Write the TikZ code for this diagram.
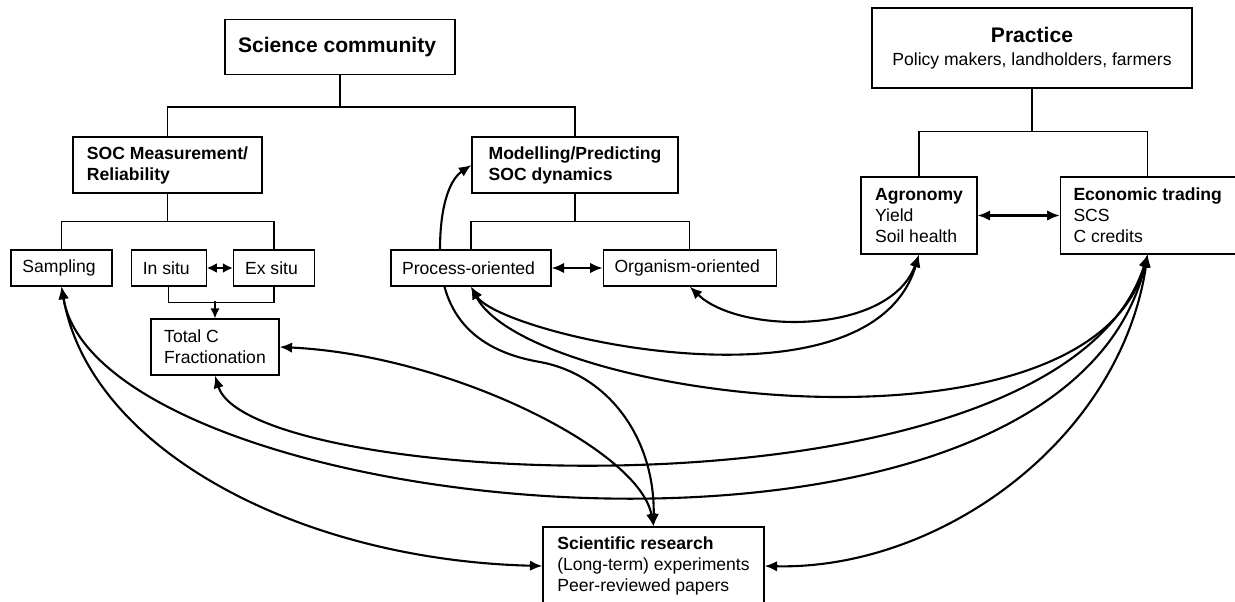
\documentclass[tikz,border=0pt]{standalone}
\usepackage{fontspec}
\setmainfont{Liberation Sans}
\usetikzlibrary{positioning, arrows.meta, backgrounds}

\begin{document}
\begin{tikzpicture}[x=0.02cm, y=-0.02cm, node distance = 0.36cm,
	>={Latex[length=2.5mm, width=2.1mm]},
	block/.style = { rectangle, draw=black, line width=0.7pt, fill=white,
	inner sep=0pt, align=left },
	bigtitle/.style = { font=\fontsize{12}{14}\selectfont\bfseries },
	tree/.style = { line width=0.7pt },
	link/.style = { <->, line width=1.2pt } ]

  \useasboundingbox (0,0) rectangle (1235,602);

  \node [name=science, block, bigtitle, minimum width=4.6cm,
	minimum height=1.1cm] at (340,47) { Science community };
  \node [name=practice, block, align=center, minimum width=6.4cm,
	minimum height=1.6cm] at (1032,48)
	{ {\fontsize{12}{14}\selectfont\bfseries Practice}\\[1pt]
	Policy makers, landholders, farmers };
  \node [name=socm, block, font=\bfseries, minimum width=3.78cm,
	minimum height=1.12cm] at (167.5,165) { SOC Measurement/\\Reliability };
  \node [name=model, block, font=\bfseries, minimum width=4.12cm,
	minimum height=1.12cm] at (575,165) { Modelling/Predicting\\SOC dynamics };
  \node [name=agro, block, minimum width=2.32cm,
	minimum height=1.54cm] at (919,215.5)
	{ \textbf{Agronomy}\\Yield\\Soil health };
  \node [name=econ, block, minimum width=3.5cm, minimum height=1.54cm,
	right=1.64cm of agro] { \textbf{Economic trading}\\SCS\\C credits };
  \node [name=sampling, block, minimum width=2.02cm,
	minimum height=0.72cm] at (61.5,268) { Sampling };
  \node [name=insitu, block, minimum width=1.5cm, minimum height=0.72cm,
	right=of sampling] { In situ };
  \node [name=exsitu, block, minimum width=1.62cm, minimum height=0.72cm,
	right=0.52cm of insitu] { Ex situ };
  \node [name=process, block, minimum width=3.2cm,
	minimum height=0.72cm] at (471,268) { Process-oriented };
  \node [name=organism, block, minimum width=3.46cm, minimum height=0.72cm,
	right=1.02cm of process] { Organism-oriented };
  \node [name=totalc, block, minimum width=2.56cm,
	minimum height=1.12cm] at (215,347) { Total C\\Fractionation };
  \node [name=research, block, minimum width=4.42cm,
	minimum height=1.56cm] at (653.5,566)
	{ \textbf{Scientific research}\\(Long-term) experiments\\Peer-reviewed papers };

  \draw [tree] (science.south) -- ++(0,32) -| (socm.north);
  \draw [tree] (science.south) -- ++(0,32) -| (model.north);
  \draw [tree] (socm.south) -- ++(0,28) -| (sampling.north);
  \draw [tree] (socm.south) -- ++(0,28) -| (exsitu.north);
  \draw [tree] (model.south) -- ++(0,28) -| (process.north);
  \draw [tree] (model.south) -- ++(0,28) -| (organism.north);
  \draw [tree] (practice.south) -- ++(0,43) -| (agro.north);
  \draw [tree] (practice.south) -- ++(0,43) -| (econ.north);
  \draw [tree] (insitu.south) -- ++(0,16) -| (exsitu.south);
  \draw [tree, -{Latex[length=2mm, width=1.8mm]}] (totalc.north) ++(0,-17) -- (totalc.north);

  \draw [link, {Latex[length=2mm, width=2mm]}-{Latex[length=2mm, width=2mm]}]
	(insitu) -- (exsitu);
  \draw [link] (process) -- (organism);
  \draw [link] (agro) -- (econ);

  \begin{scope}[on background layer]
  \draw [link] (research.north) .. controls (655,440) and (610,375) .. (540,362)
	.. controls (470,350) and (440,310) .. (440,250)
	.. controls (440,200) and (452,178) .. (model.west);
  \draw [link] (totalc.east) .. controls (450,355) and (640,450) .. (research.north);
  \draw [link] (process.south) .. controls (500,335) and (870,420) .. (agro.south);
  \draw [link] (process.south) .. controls (530,400) and (1090,470) .. (econ.south);
  \draw [link] (organism.south) .. controls (740,335) and (890,335) .. (agro.south);
  \draw [link] (totalc.south) .. controls (250,490) and (1060,530) .. (econ.south);
  \draw [link] (sampling.south) .. controls (100,520) and (1060,620) .. (econ.south);
  \draw [link] (sampling.south) .. controls (90,450) and (300,560) .. (research.west);
  \draw [link] (econ.south) .. controls (1120,440) and (940,570) .. (research.east);
  \end{scope}
\end{tikzpicture}
\end{document}
